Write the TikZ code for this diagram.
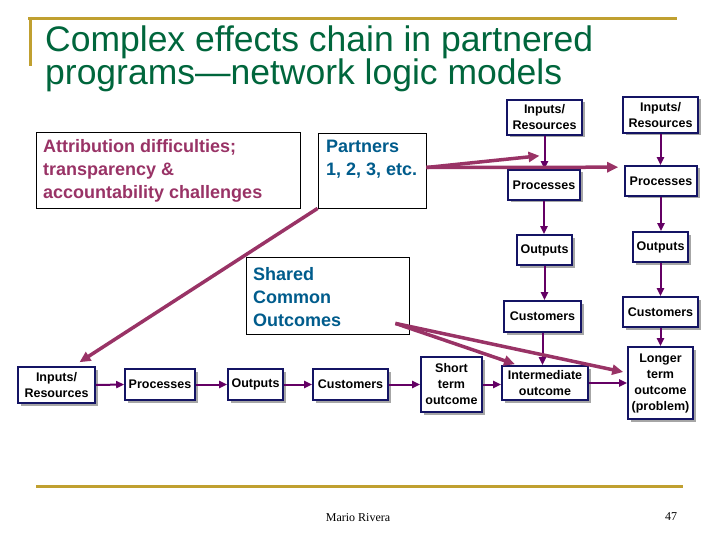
\documentclass[tikz,border=0pt]{standalone}
\usepackage{fontspec}
\newfontfamily\arial{Liberation Sans}
\newfontfamily\tnr{Liberation Serif}
\usetikzlibrary{arrows.meta,shadows,calc}
\definecolor{titlegreen}{RGB}{0,102,60}
\definecolor{gold}{RGB}{192,160,48}
\definecolor{maroon}{RGB}{153,51,102}
\definecolor{tealblue}{RGB}{0,92,140}
\definecolor{navy}{RGB}{20,20,100}
\definecolor{arrowpurple}{RGB}{100,0,100}
\tikzset{
  flowbox/.style={draw=navy, line width=1.6pt, fill=white, align=center, inner sep=0pt,
    font=\arial\bfseries\fontsize{12.5}{16}\selectfont,
    drop shadow={shadow xshift=2.5pt, shadow yshift=-2.5pt, fill=black!35, opacity=1}},
  notebox/.style={draw=black, line width=0.8pt, fill=white, inner sep=0pt},
  notetext/.style={anchor=base west, align=left, inner sep=0pt,
    font=\arial\bfseries\fontsize{18}{23}\selectfont},
  smallarrow/.style={draw=arrowpurple, line width=2pt, -{Triangle[length=8pt,width=7pt]}},
  bigarrow/.style={draw=maroon, line width=3.5pt, -{Triangle[length=11pt,width=10pt]}},
  goldline/.style={draw=gold, line width=3pt},
}
\begin{document}
\begin{tikzpicture}[x=1pt,y=-1pt]
\useasboundingbox (0,0) rectangle (720,540);
% title frame
\draw[goldline] (28,18.5) -- (677,18.5);
\draw[goldline] (30,17) -- (30,66);
\node[anchor=base west, inner sep=0pt, text=titlegreen, font=\arial\fontsize{35.5}{33}\selectfont] (t1) at (45,52) {Complex effects chain in partnered};
\node[anchor=base west, inner sep=0pt, text=titlegreen, font=\arial\fontsize{35.5}{33}\selectfont] (t2) at (45,85) {programs—network logic models};
% bottom line and footer
\draw[goldline] (36,486) -- (683,486);
\node[anchor=base, inner sep=0pt, font=\tnr\fontsize{12}{14}\selectfont] (foot) at (358,521) {Mario Rivera};
\node[anchor=base, inner sep=0pt, font=\tnr\fontsize{12}{14}\selectfont] (page) at (671,520) {47};

% note boxes
\node[notebox, minimum width=264pt, minimum height=76pt] (A) at (168,170) {};
\node[notetext, text=maroon] (At) at (43,199) {Attribution difficulties;\\transparency \&\\accountability challenges};
\node[notebox, minimum width=108pt, minimum height=75pt] (P) at (372,170.5) {};
\node[notetext, text=tealblue] (Pt) at (326,176) {Partners\\1, 2, 3, etc.};
\node[notebox, minimum width=163pt, minimum height=77pt] (S) at (327.5,295.5) {};
\node[notetext, text=tealblue] (St) at (253,326) {Shared\\Common\\Outcomes};

% bottom row
\node[flowbox, minimum width=77pt, minimum height=36pt] (bIR) at (56.5,385) {Inputs/\\Resources};
\node[flowbox, minimum width=70pt, minimum height=31pt] (bPr) at (160,384.5) {Processes};
\node[flowbox, minimum width=55pt, minimum height=31pt] (bOu) at (255.5,384.5) {Outputs};
\node[flowbox, minimum width=75pt, minimum height=31pt] (bCu) at (350.5,384.5) {Customers};
\node[flowbox, minimum width=61pt, minimum height=55pt] (bSh) at (451.5,384.5) {Short\\term\\outcome};
\node[flowbox, minimum width=86pt, minimum height=34pt] (Int) at (545,383) {Intermediate\\outcome};
\node[flowbox, minimum width=65pt, minimum height=72pt] (Lg) at (660.5,383) {Longer\\term\\outcome\\(problem)};

% column 1
\node[flowbox, minimum width=75pt, minimum height=35pt] (c1IR) at (544.5,117.5) {Inputs/\\Resources};
\node[flowbox, minimum width=72pt, minimum height=30pt] (c1Pr) at (544,185) {Processes};
\node[flowbox, minimum width=55pt, minimum height=30pt] (c1Ou) at (544.5,250) {Outputs};
\node[flowbox, minimum width=77pt, minimum height=31pt] (c1Cu) at (542.5,316.5) {Customers};
% column 2
\node[flowbox, minimum width=75pt, minimum height=36pt] (c2IR) at (660.5,115) {Inputs/\\Resources};
\node[flowbox, minimum width=72pt, minimum height=30pt] (c2Pr) at (661,181) {Processes};
\node[flowbox, minimum width=55pt, minimum height=30pt] (c2Ou) at (660.5,247) {Outputs};
\node[flowbox, minimum width=75pt, minimum height=30pt] (c2Cu) at (660.5,312) {Customers};

% small arrows: bottom row
\draw[smallarrow] (bIR.east) -- (bPr.west);
\draw[smallarrow] (bPr.east) -- (bOu.west);
\draw[smallarrow] (bOu.east) -- (bCu.west);
\draw[smallarrow] (bCu.east) -- (bSh.west);
\draw[smallarrow] (bSh.east) -- (bSh.east -| Int.west);
\draw[smallarrow] (Int.east) -- (Int.east -| Lg.west);
% column 1
\draw[smallarrow] (c1IR.south) -- (c1IR.south |- c1Pr.north);
\draw[smallarrow] (c1Pr.south) -- (c1Pr.south |- c1Ou.north);
\draw[smallarrow] (c1Ou.south) -- (c1Ou.south |- c1Cu.north);
\draw[smallarrow] (c1Cu.south) -- (c1Cu.south |- Int.north);
% column 2
\draw[smallarrow] (c2IR.south) -- (c2IR.south |- c2Pr.north);
\draw[smallarrow] (c2Pr.south) -- (c2Pr.south |- c2Ou.north);
\draw[smallarrow] (c2Ou.south) -- (c2Ou.south |- c2Cu.north);
\draw[smallarrow] (c2Cu.south) -- (c2Cu.south |- Lg.north);

% big arrows
\coordinate (pOut) at ($(P.east)+(0,-3)$);
\coordinate (c1hit) at ($(c1IR.south)+(-5,20)$);
\coordinate (c2hit) at ($(c2Pr.north west)+(-6,2)$);
\coordinate (bIRhit) at ($(bIR.north)+(23,-4)$);
\coordinate (sOut) at ($(S.south east)+(-14,-11)$);
\coordinate (intHit) at ($(Int.north)+(-30,-1)$);
\coordinate (lgHit) at ($(Lg.west)+(-4,-11)$);
\draw[bigarrow] (P.south west) -- (bIRhit);
\draw[bigarrow] (pOut) -- (c1hit);
\draw[bigarrow] (pOut) -- (c2hit);
\draw[bigarrow] (sOut) -- (intHit);
\draw[bigarrow] (sOut) -- (lgHit);
\end{tikzpicture}
\end{document}
